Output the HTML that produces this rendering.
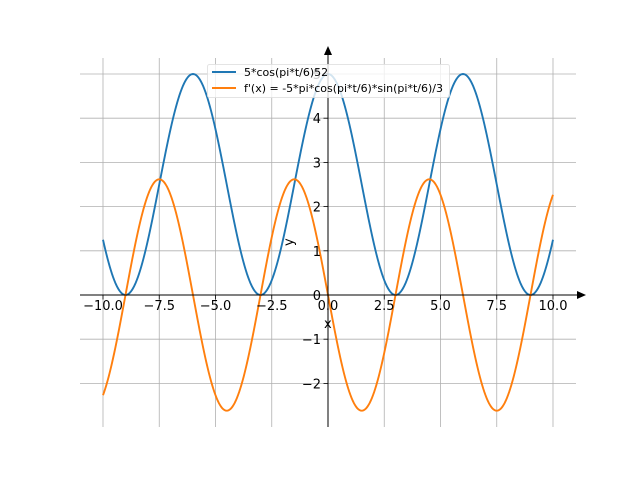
<!DOCTYPE html>
<html><head><meta charset="utf-8"><style>
body{margin:0;background:#fff}
svg text{font-family:"DejaVu Sans","Liberation Sans",sans-serif;font-size:13px;fill:#000}
</style></head><body>
<svg id="s" width="640" height="480" xmlns="http://www.w3.org/2000/svg">
<g id="grid" stroke="#b0b0b0" stroke-width="0.8"></g>
<g id="curves" fill="none" stroke-width="1.9"></g>
<g stroke="#000" stroke-width="1">
<line x1="80" y1="295" x2="580" y2="295"/>
<line x1="328" y1="427" x2="328" y2="52"/>
</g>
<polygon points="586,295 577,291 577,299" fill="#000"/>
<polygon points="328,46 324,55 332,55" fill="#000"/>
<g id="ticks" stroke="#000" stroke-width="0.8"></g>
<g id="labels"></g>
<text x="324" y="328">x</text>
<text x="293" y="246" transform="rotate(-90 293 246)">y</text>
<rect x="207.5" y="64.5" width="242" height="33" rx="2" fill="#fff" fill-opacity="0.8" stroke="#ddd" stroke-opacity="0.8"/>
<line x1="212" y1="72" x2="236" y2="72" stroke="#1f77b4" stroke-width="1.9"/>
<line x1="212" y1="88" x2="236" y2="88" stroke="#ff7f0e" stroke-width="1.9"/>
<text x="244" y="76" style="font-size:11px">5*cos(pi*t/6)52</text>
<text x="244" y="92" style="font-size:11px">f'(x) = -5*pi*cos(pi*t/6)*sin(pi*t/6)/3</text>
</svg>
<script>
const X=t=>328+t*22.5, Y=v=>295-v*44.2, ns="http://www.w3.org/2000/svg";
function el(p,n,a,txt){const e=document.createElementNS(ns,n);for(const k in a)e.setAttribute(k,a[k]);if(txt!==undefined)e.textContent=txt;document.getElementById(p).appendChild(e);}
[-10,-7.5,-5,-2.5,0,2.5,5,7.5,10].forEach(t=>{const x=X(t);el("grid","line",{x1:x,y1:58,x2:x,y2:427});el("ticks","line",{x1:x,y1:295,x2:x,y2:299.5});
el("labels","text",{x:x,y:310,"text-anchor":"middle"},(t<0?"\u2212":"")+Math.abs(t).toFixed(1));});
[-2,-1,0,1,2,3,4,5].forEach(v=>{const y=Y(v);el("grid","line",{x1:80,y1:y,x2:576,y2:y});el("ticks","line",{x1:323.5,y1:y,x2:328,y2:y});
el("labels","text",{x:321,y:y+5,"text-anchor":"end"},(v<0?"\u2212":"")+Math.abs(v));});
function path(f,c){let d="";for(let i=0;i<=400;i++){const t=-10+i*0.05;d+=(i?"L":"M")+X(t).toFixed(2)+","+Y(f(t)).toFixed(2);}el("curves","path",{d:d,stroke:c});}
const w=Math.PI/6;
path(t=>5*Math.cos(w*t)**2,"#1f77b4");
path(t=>-5*Math.PI*Math.cos(w*t)*Math.sin(w*t)/3,"#ff7f0e");
</script>
</body></html>
